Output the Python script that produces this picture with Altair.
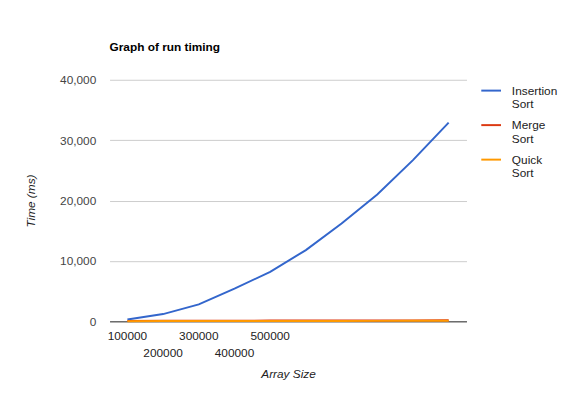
import altair as alt
import pandas as pd

sizes = ["100000","200000","300000","400000","500000","600000","700000","800000","900000","1000000"]
insertion = [300, 1200, 2800, 5400, 8200, 11800, 16200, 21000, 26700, 32900]
merge = [60, 80, 100, 110, 120, 130, 140, 150, 160, 170]
quick = [30, 40, 50, 55, 60, 65, 70, 75, 80, 85]
series = ["Insertion Sort", "Merge Sort", "Quick Sort"]
colors = ["#3366cc", "#dc3912", "#ff9900"]
shown_labels = ["100000","200000","300000","400000","500000"]

rows = []
for name, vals in zip(series, [insertion, merge, quick]):
    for s, v in zip(sizes, vals):
        rows.append({"size": s, "time": v, "series": name})
df = pd.DataFrame(rows)
lab = pd.DataFrame({"size": shown_labels, "idx": list(range(len(shown_labels)))})

xs = alt.Scale(domain=sizes, type="point", padding=0.5)
x = alt.X("size:N", scale=xs, sort=sizes,
          axis=alt.Axis(labels=False, ticks=False, domain=True, domainColor="#333",
                        title="Array Size", titleFontStyle="italic", titleFontWeight="normal",
                        titleFont="Arial", titleFontSize=12, titleColor="#222", titlePadding=48))

lines = alt.Chart(df).mark_line(strokeWidth=2).encode(
    x=x,
    y=alt.Y("time:Q", scale=alt.Scale(domain=[0, 40000]),
            axis=alt.Axis(values=[0, 10000, 20000, 30000, 40000], format=",.0f", domain=False, ticks=False,
                          gridColor="#cccccc", labelColor="#444", labelFont="Arial", labelFontSize=12,
                          labelPadding=14, title="Time (ms)", titleFontStyle="italic",
                          titleFontWeight="normal", titleFont="Arial", titleFontSize=12,
                          titleColor="#222", titlePadding=22)),
    color=alt.Color("series:N", scale=alt.Scale(domain=series, range=colors),
                    legend=alt.Legend(title=None, orient="right", symbolType="stroke",
                                      symbolStrokeWidth=2, symbolSize=400, labelFont="Arial",
                                      labelFontSize=12, labelColor="#222",
                                      labelExpr="split(datum.label, ' ')", rowPadding=4,
                                      offset=14, labelOffset=10)),
    order=alt.Order("series:N", sort="descending"),
)

def labels(parity, dy):
    return alt.Chart(lab).transform_filter(f"datum.idx % 2 == {parity}").mark_text(
        font="Arial", fontSize=12, color="#222", baseline="top", dy=dy
    ).encode(x=alt.X("size:N", scale=xs, sort=sizes), y=alt.value(245), text="size:N")

chart = alt.layer(lines, labels(0, 10), labels(1, 27)).properties(
    width=362, height=245,
    title=alt.TitleParams("Graph of run timing", anchor="start", frame="group",
                          font="Arial", fontSize=12, fontWeight="bold", color="#000", offset=20),
    autosize="none",
    padding={"left": 103, "top": 70, "right": 107, "bottom": 77},
).configure_view(stroke=None)

chart.save("out.html", embed_options={"renderer": "svg", "actions": False})
